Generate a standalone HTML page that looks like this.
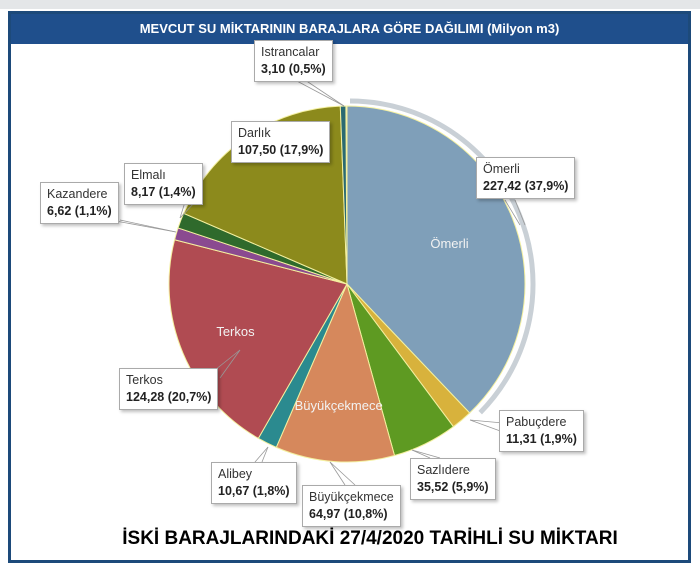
<!DOCTYPE html>
<html><head><meta charset="utf-8"><style>
body{margin:0;width:700px;height:568px;background:#fff;overflow:hidden;font-family:"Liberation Sans",sans-serif}
.top{position:absolute;left:0;top:0;width:700px;height:9px;background:#e4e6e8}
.frame{position:absolute;left:8px;top:11px;width:677px;height:546px;border:3px solid #1d4a7a;background:#fff}
.bar{position:absolute;left:0;top:0;width:677px;height:30px;background:#1f4f8c;color:#fff;font-weight:bold;font-size:13px;text-align:center;line-height:30px;font-family:"Liberation Sans Narrow","Liberation Sans",sans-serif}
.lb{position:absolute;background:#fff;border:1px solid #aaa;box-shadow:2px 2px 3px rgba(0,0,0,.25);font-size:12.5px;color:#333;padding:3px 6px;line-height:17px;white-space:nowrap}
.lb b{color:#222}
.foot{position:absolute;left:0;top:528px;width:740px;text-align:center;font-weight:bold;font-size:19px;color:#000;font-family:"Liberation Sans Narrow","Liberation Sans",sans-serif}
svg{position:absolute;left:0;top:0}
</style></head><body>
<div class="top"></div>
<div class="frame"><div class="bar">MEVCUT SU MİKTARININ BARAJLARA GÖRE DAĞILIMI (Milyon m3)</div></div>
<svg width="700" height="568" id="s"></svg>
<div class="lb" style="left:254px;top:40px">Istrancalar<br><b>3,10 (0,5%)</b></div>
<div class="lb" style="left:231px;top:121px">Darlık<br><b>107,50 (17,9%)</b></div>
<div class="lb" style="left:476px;top:157px">Ömerli<br><b>227,42 (37,9%)</b></div>
<div class="lb" style="left:124px;top:163px">Elmalı<br><b>8,17 (1,4%)</b></div>
<div class="lb" style="left:40px;top:182px">Kazandere<br><b>6,62 (1,1%)</b></div>
<div class="lb" style="left:119px;top:368px">Terkos<br><b>124,28 (20,7%)</b></div>
<div class="lb" style="left:211px;top:462px">Alibey<br><b>10,67 (1,8%)</b></div>
<div class="lb" style="left:302px;top:485px">Büyükçekmece<br><b>64,97 (10,8%)</b></div>
<div class="lb" style="left:410px;top:458px">Sazlıdere<br><b>35,52 (5,9%)</b></div>
<div class="lb" style="left:499px;top:410px">Pabuçdere<br><b>11,31 (1,9%)</b></div>
<div class="foot">İSKİ BARAJLARINDAKİ 27/4/2020 TARİHLİ SU MİKTARI</div>
<script>
var d=[[37.9,'#7f9fb9','Ömerli'],[1.9,'#d8b23c'],[5.9,'#5e9a22'],[10.8,'#d6885c','Büyükçekmece'],[1.8,'#2b8a8f'],[20.7,'#b04b52','Terkos'],[1.1,'#8a4a90'],[1.4,'#2f6a2c'],[17.9,'#8c8a1c'],[0.5,'#2a6a72']];
var cx=347,cy=284,r=178,a=0,h='';
h+='<path d="M'+(cx+3)+','+(cy-183)+' A183,183 0 0 1 '+(cx+183*Math.sin(2.35)+3)+','+(cy-183*Math.cos(2.35))+'" fill="none" stroke="#c9d0d6" stroke-width="5"/>';
d.forEach(function(s){var a2=a+s[0]/100*2*Math.PI;var x1=cx+r*Math.sin(a),y1=cy-r*Math.cos(a),x2=cx+r*Math.sin(a2),y2=cy-r*Math.cos(a2);
h+='<path d="M'+cx+','+cy+' L'+x1+','+y1+' A'+r+','+r+' 0 '+((a2-a)>Math.PI?1:0)+' 1 '+x2+','+y2+'Z" fill="'+s[1]+'" stroke="#f4f0a0" stroke-width="1"/>';
if(s[2]){var m=(a+a2)/2,k=s[2]=='Ömerli'?0.62:0.68;h+='<text x="'+(cx+r*k*Math.sin(m))+'" y="'+(cy-r*k*Math.cos(m)+5)+'" fill="#f2f2f2" font-size="13" text-anchor="middle" font-family="Liberation Sans">'+s[2]+'</text>';}
a=a2;});
var L=[[295,80,344,106],[305,80,344,106],[505,200,520,225],[515,200,525,225],[185,202,180,218],[195,202,180,218],[110,220,176,232],[120,220,176,232],[215,370,240,350],[220,378,240,350],[255,462,268,447],[262,462,268,447],[345,485,330,462],[355,485,330,462],[430,458,412,450],[440,458,412,450],[503,423,470,420],[503,432,470,420]];
L.forEach(function(l){h+='<line x1="'+l[0]+'" y1="'+l[1]+'" x2="'+l[2]+'" y2="'+l[3]+'" stroke="#999" stroke-width="0.8"/>';});
document.getElementById('s').innerHTML=h;
</script>
</body></html>
